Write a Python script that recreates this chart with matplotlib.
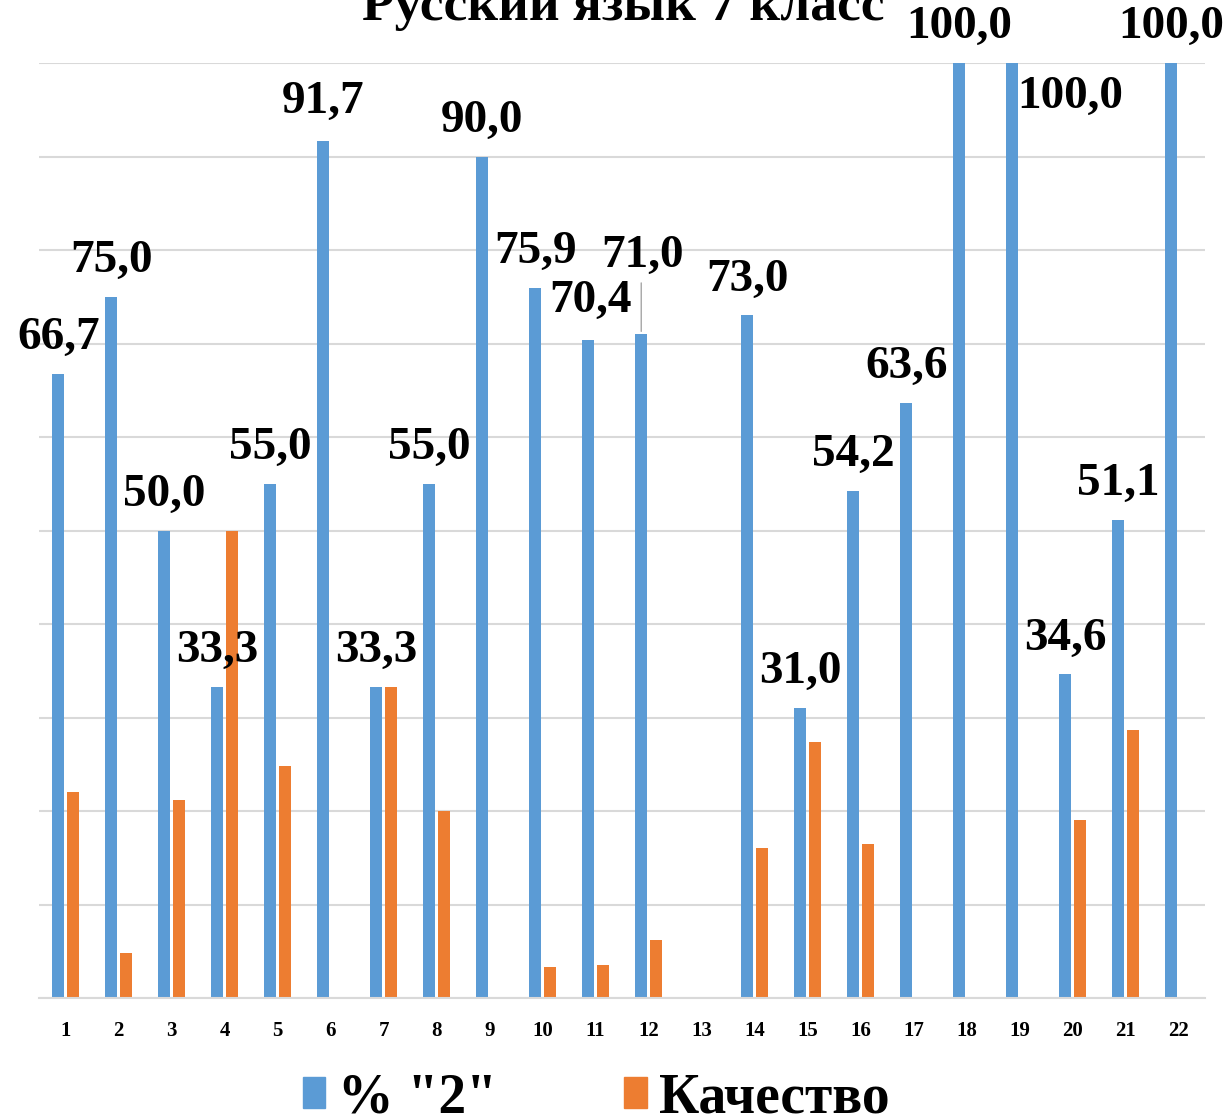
import matplotlib
matplotlib.use("Agg")
import matplotlib.pyplot as plt
from matplotlib.patches import Patch
import numpy as np

title = "Русский язык 7 класс"
categories = [str(i) for i in range(1, 23)]
pct2 = [66.7, 75.0, 50.0, 33.3, 55.0, 91.7, 33.3, 55.0, 90.0, 75.9, 70.4, 71.0,
        0, 73.0, 31.0, 54.2, 63.6, 100.0, 100.0, 34.6, 51.1, 100.0]
quality = [22.0, 4.8, 21.2, 50.0, 24.8, 0, 33.3, 20.0, 0, 3.3, 3.5, 6.2,
           0, 16.0, 27.4, 16.5, 0, 0, 0, 19.0, 28.7, 0]
series_names = ['% "2"', 'Качество']

# label offsets in pixels (dx, dy) relative to bar top for moved labels
label_offsets = {5: (0, 39), 10: (2, 39), 11: (1, 78), 18: (58, -34)}
leader_lines = {11}

BLUE = "#5B9BD5"
ORANGE = "#ED7D31"
GRID = "#D9D9D9"
FONT = "Liberation Serif"

fig = plt.figure(figsize=(12.32, 11.16), dpi=100)
ax = fig.add_axes([39/1232, 1 - 998/1116, (1205-39)/1232, (998-63)/1116])

x = np.arange(1, len(categories) + 1)
w = 0.23
off = 0.137
b1 = ax.bar(x - off, pct2, width=w, color=BLUE, zorder=3)
b2 = ax.bar(x + off, quality, width=w, color=ORANGE, zorder=3)

ax.set_xlim(0.5, len(categories) + 0.5)
ax.set_ylim(0, 100)
ax.set_yticks(np.arange(0, 101, 10))
ax.yaxis.grid(True, color=GRID, lw=1.5, zorder=0)
ax.tick_params(axis='y', left=False, labelleft=False)
ax.tick_params(axis='x', bottom=False, pad=13)
ax.set_xticks(x)
ax.set_xticklabels(categories, fontfamily=FONT, fontweight='bold', fontsize=15)
for s in ['top', 'right', 'left']:
    ax.spines[s].set_visible(False)
ax.spines['bottom'].set_color(GRID)
ax.spines['bottom'].set_linewidth(1.5)
ax.spines['bottom'].set_zorder(4)

for i, v in enumerate(pct2):
    if v == 0:
        continue
    dx, dy = label_offsets.get(i, (0, 36))
    txt = f"{v:.1f}".replace(".", ",")
    ax.annotate(txt, xy=(x[i] - off, v), xytext=(dx, dy), textcoords='offset pixels',
                ha='center', va='center', fontfamily=FONT, fontweight='bold',
                fontsize=34, annotation_clip=False, zorder=5)
    if i in leader_lines:
        ax.annotate("", xy=(x[i] - off, v), xytext=(0, dy - 24), textcoords='offset pixels',
                    arrowprops=dict(arrowstyle='-', color='#A6A6A6', lw=1),
                    annotation_clip=False)

fig.text(623/1232, 1 - 20/1116, title, ha='center', va='baseline',
         fontfamily=FONT, fontweight='bold', fontsize=38.5)

handles = [Patch(color=BLUE), Patch(color=ORANGE)]
fig.legend(handles, series_names, loc='lower center', bbox_to_anchor=(0.484, -0.052),
           ncol=2, frameon=False, handlelength=0.4, handleheight=0.47,
           handletextpad=0.22, columnspacing=2.3,
           prop=dict(family=FONT, weight='bold', size=40))

fig.savefig("out.png", dpi=100)
